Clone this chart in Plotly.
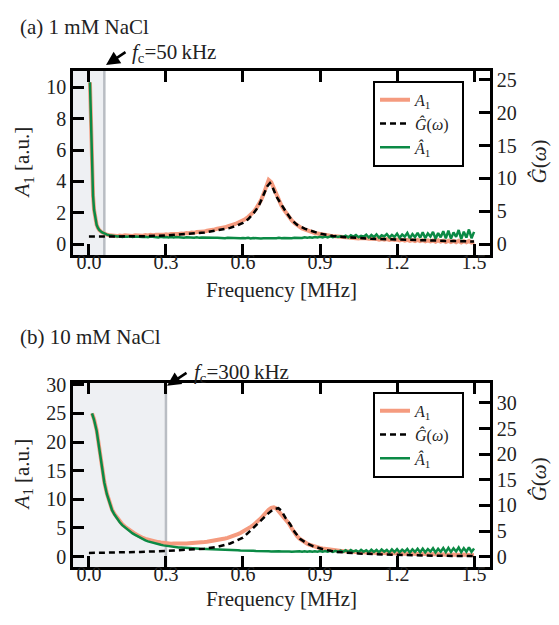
import plotly.graph_objects as go

SERIF = "Liberation Serif"
SALMON = "#f59b7f"
GREEN = "#0b8a45"
SHADE = "#eef0f3"
SHADE_EDGE = "#b9bdc3"

# ---- frequency samples [MHz] ----
freq_tail = [
    0.10, 0.11, 0.12, 0.13, 0.14, 0.15, 0.16, 0.17, 0.18, 0.19,
    0.20, 0.21, 0.22, 0.23, 0.24, 0.25, 0.26, 0.27, 0.28, 0.29,
    0.30, 0.31, 0.32, 0.33, 0.34, 0.35, 0.36, 0.37, 0.38, 0.39,
    0.40, 0.41, 0.42, 0.43, 0.44, 0.45, 0.46, 0.47, 0.48, 0.49,
    0.50, 0.51, 0.52, 0.53, 0.54, 0.55, 0.56, 0.57, 0.58, 0.59,
    0.60, 0.61, 0.62, 0.63, 0.64, 0.65, 0.66, 0.67, 0.68, 0.69,
    0.70, 0.71, 0.72, 0.73, 0.74, 0.75, 0.76, 0.77, 0.78, 0.79,
    0.80, 0.81, 0.82, 0.83, 0.84, 0.85, 0.86, 0.87, 0.88, 0.89,
    0.90, 0.91, 0.92, 0.93, 0.94, 0.95, 0.96, 0.97, 0.98, 0.99,
    1.00, 1.01, 1.02, 1.03, 1.04, 1.05, 1.06, 1.07, 1.08, 1.09,
    1.10, 1.11, 1.12, 1.13, 1.14, 1.15, 1.16, 1.17, 1.18, 1.19,
    1.20, 1.21, 1.22, 1.23, 1.24, 1.25, 1.26, 1.27, 1.28, 1.29,
    1.30, 1.31, 1.32, 1.33, 1.34, 1.35, 1.36, 1.37, 1.38, 1.39,
    1.40, 1.41, 1.42, 1.43, 1.44, 1.45, 1.46, 1.47, 1.48, 1.49,
    1.50,
]
freq_a_early = [0.004, 0.006, 0.008, 0.010, 0.013, 0.016, 0.020, 0.025,
                0.030, 0.035, 0.040, 0.050, 0.060, 0.070, 0.080, 0.090]
freq_b_early = [0.012, 0.020, 0.030, 0.040, 0.050, 0.060, 0.070, 0.080, 0.090]
freq_a = freq_a_early + freq_tail
freq_b = freq_b_early + freq_tail

# ---- (a) 1 mM NaCl ----
a1_a = [
    10.3, 9.0, 7.5, 5.8, 4.2, 3.1, 2.2, 1.6, 1.25, 1.05, 0.92, 0.78, 0.68, 0.62, 0.58, 0.55,
    0.56, 0.53, 0.57, 0.54, 0.58, 0.55, 0.57, 0.54, 0.58, 0.56,
    0.59, 0.56, 0.60, 0.57, 0.61, 0.58, 0.62, 0.60, 0.63, 0.61,
    0.65, 0.62, 0.66, 0.64, 0.68, 0.66, 0.70, 0.68, 0.73, 0.71,
    0.76, 0.74, 0.79, 0.78, 0.83, 0.82, 0.87, 0.88, 0.93, 0.95,
    1.00, 1.01, 1.07, 1.09, 1.15, 1.18, 1.26, 1.30, 1.38, 1.45,
    1.52, 1.62, 1.74, 1.88, 2.05, 2.25, 2.50, 2.80, 3.20, 3.65,
    4.10, 3.95, 3.55, 3.10, 2.80, 2.45, 2.20, 1.95, 1.72, 1.52,
    1.36, 1.22, 1.12, 1.02, 0.95, 0.88, 0.82, 0.78, 0.73, 0.70,
    0.66, 0.63, 0.61, 0.58, 0.56, 0.54, 0.52, 0.51, 0.49, 0.47,
    0.45, 0.43, 0.44, 0.40, 0.42, 0.38, 0.41, 0.37, 0.39, 0.36,
    0.37, 0.33, 0.36, 0.31, 0.35, 0.30, 0.34, 0.29, 0.33, 0.28,
    0.31, 0.26, 0.30, 0.24, 0.29, 0.23, 0.28, 0.22, 0.29, 0.21,
    0.27, 0.20, 0.26, 0.19, 0.25, 0.17, 0.26, 0.18, 0.24, 0.16,
    0.24, 0.15, 0.22, 0.14, 0.23, 0.13, 0.21, 0.14, 0.22, 0.12,
    0.18,
]
a1_hat_a = [
    10.3, 9.0, 7.5, 5.8, 4.2, 3.1, 2.2, 1.6, 1.25, 1.05, 0.92, 0.78, 0.68, 0.62, 0.58, 0.55,
    0.54, 0.50, 0.52, 0.48, 0.51, 0.49, 0.52, 0.47, 0.50, 0.48,
    0.50, 0.47, 0.49, 0.46, 0.50, 0.47, 0.48, 0.45, 0.49, 0.46,
    0.48, 0.45, 0.47, 0.44, 0.47, 0.45, 0.46, 0.43, 0.46, 0.44,
    0.45, 0.43, 0.46, 0.42, 0.44, 0.43, 0.45, 0.41, 0.44, 0.42,
    0.43, 0.41, 0.43, 0.40, 0.42, 0.41, 0.43, 0.39, 0.42, 0.40,
    0.41, 0.39, 0.42, 0.38, 0.41, 0.39, 0.41, 0.38, 0.40, 0.39,
    0.41, 0.38, 0.40, 0.39, 0.42, 0.39, 0.41, 0.40, 0.43, 0.40,
    0.42, 0.41, 0.44, 0.41, 0.45, 0.42, 0.46, 0.43, 0.47, 0.44,
    0.48, 0.44, 0.50, 0.45, 0.51, 0.46, 0.53, 0.47, 0.52, 0.48,
    0.56, 0.45, 0.58, 0.50, 0.60, 0.46, 0.55, 0.49, 0.62, 0.44,
    0.60, 0.47, 0.64, 0.43, 0.58, 0.51, 0.66, 0.45, 0.61, 0.48,
    0.69, 0.42, 0.63, 0.49, 0.73, 0.40, 0.66, 0.47, 0.74, 0.43,
    0.77, 0.40, 0.70, 0.50, 0.80, 0.36, 0.72, 0.46, 0.84, 0.39,
    0.88, 0.37, 0.76, 0.48, 0.92, 0.34, 0.81, 0.44, 0.95, 0.40,
    0.80,
]
g_freq_a = [0.0, 0.10, 0.20, 0.30, 0.40, 0.45, 0.50, 0.55, 0.58, 0.60, 0.62,
            0.64, 0.66, 0.68, 0.695, 0.705, 0.715, 0.73, 0.75, 0.77, 0.79,
            0.81, 0.84, 0.87, 0.90, 0.95, 1.00, 1.10, 1.20, 1.30, 1.40, 1.50]
g_hat_a = [1.19, 1.19, 1.24, 1.36, 1.62, 1.81, 2.15, 2.51, 2.91, 3.27, 3.82,
           4.66, 5.73, 7.40, 8.84, 9.31, 8.72, 7.28, 5.97, 4.78, 3.70,
           2.99, 2.39, 1.96, 1.62, 1.29, 1.10, 0.86, 0.72, 0.60, 0.53, 0.45]

# ---- (b) 10 mM NaCl ----
a1_b = [
    25.0, 24.0, 22.1, 18.9, 15.5, 13.0, 11.0, 9.4, 8.2,
    7.40, 6.75, 6.15, 5.65, 5.25, 4.88, 4.52, 4.22, 3.98, 3.74,
    3.44, 3.26, 3.10, 2.96, 2.84, 2.72, 2.62, 2.54, 2.46, 2.38,
    2.32, 2.30, 2.26, 2.28, 2.25, 2.27, 2.26, 2.30, 2.29, 2.33,
    2.34, 2.38, 2.40, 2.45, 2.48, 2.55, 2.60, 2.66, 2.72, 2.80,
    2.88, 2.96, 3.06, 3.16, 3.28, 3.40, 3.55, 3.72, 3.92, 4.12,
    4.35, 4.60, 4.90, 5.20, 5.50, 5.85, 6.25, 6.70, 7.20, 7.75,
    8.20, 8.50, 8.60, 8.40, 7.90, 7.30, 6.80, 6.40, 5.70, 4.90,
    4.20, 3.60, 3.15, 2.80, 2.50, 2.25, 2.05, 1.88, 1.72, 1.60,
    1.50, 1.42, 1.34, 1.27, 1.20, 1.14, 1.09, 1.04, 0.99, 0.95,
    0.92, 0.86, 0.88, 0.80, 0.83, 0.76, 0.79, 0.72, 0.76, 0.69,
    0.72, 0.64, 0.69, 0.61, 0.66, 0.58, 0.63, 0.55, 0.61, 0.53,
    0.58, 0.50, 0.56, 0.47, 0.54, 0.45, 0.52, 0.43, 0.50, 0.41,
    0.48, 0.39, 0.46, 0.37, 0.45, 0.35, 0.43, 0.34, 0.42, 0.32,
    0.40, 0.31, 0.38, 0.29, 0.37, 0.28, 0.35, 0.27, 0.34, 0.26,
    0.30,
]
a1_hat_b = [
    25.0, 23.9, 22.0, 18.7, 15.4, 12.9, 10.9, 9.3, 8.1,
    7.30, 6.60, 6.00, 5.50, 5.10, 4.70, 4.35, 4.05, 3.80, 3.55,
    3.20, 3.00, 2.82, 2.66, 2.52, 2.40, 2.28, 2.17, 2.06, 1.96,
    1.88, 1.80, 1.76, 1.70, 1.66, 1.60, 1.58, 1.53, 1.51, 1.47,
    1.45, 1.41, 1.40, 1.36, 1.35, 1.31, 1.31, 1.27, 1.27, 1.23,
    1.23, 1.19, 1.20, 1.15, 1.16, 1.12, 1.13, 1.09, 1.10, 1.06,
    1.07, 1.03, 1.04, 1.00, 1.02, 0.97, 0.99, 0.95, 0.97, 0.93,
    0.95, 0.91, 0.94, 0.89, 0.93, 0.88, 0.92, 0.87, 0.91, 0.86,
    0.91, 0.85, 0.92, 0.84, 0.93, 0.85, 0.94, 0.84, 0.95, 0.85,
    0.97, 0.84, 0.99, 0.85, 1.01, 0.83, 1.02, 0.84, 1.04, 0.82,
    1.10, 0.80, 1.14, 0.86, 1.08, 0.78, 1.18, 0.84, 1.12, 0.76,
    1.20, 0.82, 1.16, 0.74, 1.24, 0.86, 1.18, 0.72, 1.26, 0.80,
    1.30, 0.74, 1.22, 0.84, 1.34, 0.70, 1.28, 0.82, 1.38, 0.76,
    1.40, 0.74, 1.32, 0.86, 1.46, 0.72, 1.36, 0.84, 1.50, 0.78,
    1.52, 0.80, 1.44, 0.90, 1.60, 0.76, 1.48, 0.86, 1.62, 0.82,
    1.40,
]
g_freq_b = [0.0, 0.10, 0.20, 0.30, 0.40, 0.45, 0.50, 0.55, 0.60, 0.627,
            0.66, 0.70, 0.72, 0.738, 0.75, 0.765, 0.783, 0.80, 0.822, 0.85,
            0.874, 0.92, 0.965, 1.05, 1.15, 1.25, 1.35, 1.50]
g_hat_b = [0.73, 0.78, 0.92, 1.12, 1.40, 1.57, 1.90, 2.57, 3.69, 5.04,
           6.49, 8.50, 9.29, 9.46, 8.95, 7.61, 6.38, 4.92, 3.47, 2.57,
           2.01, 1.34, 0.93, 0.62, 0.43, 0.28, 0.19, 0.11]

# cut-off frequencies [MHz] bounding the shaded band
fc_a = 0.06
fc_b = 0.30

x_ticks = [0.0, 0.3, 0.6, 0.9, 1.2, 1.5]
x_ticktext = ["0.0", "0.3", "0.6", "0.9", "1.2", "1.5"]
ya_ticks = [0, 2, 4, 6, 8, 10]
ya2_ticks = [0, 5, 10, 15, 20, 25]
yb_ticks = [0, 5, 10, 15, 20, 25, 30]
yb2_ticks = [0, 5, 10, 15, 20, 25, 30]

LBL_A1 = "<i>A</i><sub>1</sub>"
LBL_G = "<i>Ĝ</i>(<i>ω</i>)\u00a0\u00a0"
LBL_A1H = "<i>Â</i><sub>1</sub>"

W, H = 559, 625
fig = go.Figure()


def add_panel(xa, ya, ya_r, leg, f, a1, a1h, gf, g):
    fig.add_trace(go.Scatter(x=f, y=a1, xaxis=xa, yaxis=ya, mode="lines",
                             line=dict(color=SALMON, width=4), name=LBL_A1,
                             legend=leg, legendrank=1))
    fig.add_trace(go.Scatter(x=f, y=a1h, xaxis=xa, yaxis=ya, mode="lines",
                             line=dict(color=GREEN, width=2.5), name=LBL_A1H,
                             legend=leg, legendrank=3))
    fig.add_trace(go.Scatter(x=gf, y=g, xaxis=xa, yaxis=ya_r, mode="lines",
                             line=dict(color="black", width=2.5, dash="6px,4px"),
                             name=LBL_G, legend=leg, legendrank=2))


add_panel("x", "y", "y2", "legend", freq_a, a1_a, a1_hat_a, g_freq_a, g_hat_a)
add_panel("x2", "y3", "y4", "legend2", freq_b, a1_b, a1_hat_b, g_freq_b, g_hat_b)

x_dom = [73 / W, 490 / W]
top_dom = [1 - 250 / H, 1 - 63 / H]
bot_dom = [1 - 567 / H, 1 - 380 / H]
X_RANGE = [-0.062, 1.562]

axis_style = dict(showline=True, linecolor="black", linewidth=2.5,
                  ticks="inside", ticklen=11, tickwidth=2.5, tickcolor="black",
                  showgrid=False, zeroline=False,
                  tickfont=dict(family=SERIF, size=20, color="#222"))

fig.update_layout(
    xaxis=dict(domain=x_dom, anchor="y", range=X_RANGE, tickvals=x_ticks,
               ticktext=x_ticktext, mirror="ticks", ticklabelstandoff=-13,
               **axis_style),
    yaxis=dict(domain=top_dom, anchor="x", range=[-0.67, 11.02],
               tickvals=ya_ticks, **axis_style),
    yaxis2=dict(overlaying="y", side="right", anchor="x", range=[-1.6, 26.3],
                tickvals=ya2_ticks, **axis_style),
    xaxis2=dict(domain=x_dom, anchor="y3", range=X_RANGE, tickvals=x_ticks,
                ticktext=x_ticktext, mirror="ticks", ticklabelstandoff=-13,
                **axis_style),
    yaxis3=dict(domain=bot_dom, anchor="x2", range=[-1.8, 30.33],
                tickvals=yb_ticks, **axis_style),
    yaxis4=dict(overlaying="y3", side="right", anchor="x2", range=[-2.0, 33.9],
                tickvals=yb2_ticks, **axis_style),
)

# shaded low-frequency bands with their edge lines
for xref, yref, fc in (("x", "y domain", fc_a), ("x2", "y3 domain", fc_b)):
    fig.add_shape(type="rect", xref=xref, yref=yref, x0=X_RANGE[0], x1=fc,
                  y0=0, y1=1, fillcolor=SHADE, line_width=0, layer="below")
    fig.add_shape(type="line", xref=xref, yref=yref, x0=fc, x1=fc, y0=0, y1=1,
                  line=dict(color=SHADE_EDGE, width=2.5), layer="below")

legend_style = dict(xanchor="left", yanchor="top", bgcolor="white",
                    bordercolor="black", borderwidth=2,
                    font=dict(family=SERIF, size=16, color="#222"),
                    tracegroupgap=0, itemwidth=30)
fig.update_layout(
    legend=dict(x=373 / W, y=1 - 73 / H, **legend_style),
    legend2=dict(x=373 / W, y=1 - 389 / H, **legend_style),
)


def px_text(x, y, text, size=21, angle=0, xanchor="center"):
    fig.add_annotation(x=x / W, y=1 - y / H, xref="paper", yref="paper",
                       text=text, showarrow=False, textangle=angle,
                       xanchor=xanchor, yanchor="middle",
                       font=dict(family=SERIF, size=size, color="#222"))


def px_arrow(x_tip, y_tip, dx, dy):
    fig.add_annotation(x=x_tip / W, y=1 - y_tip / H, xref="paper", yref="paper",
                       text="", showarrow=True, ax=dx, ay=dy, arrowhead=2,
                       arrowsize=1.1, arrowwidth=2.5, arrowcolor="black")


# panel headings
px_text(18, 18, "(a) 1 mM NaCl", xanchor="left")
px_text(18, 333, "(b) 10 mM NaCl", xanchor="left")

# cut-off markers
px_text(130, 45, "<i>f</i><sub>c</sub>=50\u2009kHz", xanchor="left")
px_arrow(106, 57, 21, -14)
px_text(192, 370, "<i>f</i><sub>c</sub>=300\u2009kHz", xanchor="left")
px_arrow(167, 383, 21, -14)

# axis titles
for yc in (156, 473):
    px_text(23, yc, "<i>A</i><sub>1</sub> [a.u.]", angle=-90)
for yc in (155, 478):
    px_text(539, yc, "<i>Ĝ</i>(<i>ω</i>)", angle=-90)
for yc in (286, 600):
    px_text(281, yc, "Frequency [MHz]")

fig.update_layout(width=W, height=H, margin=dict(l=0, r=0, t=0, b=0),
                  paper_bgcolor="white", plot_bgcolor="white")

fig.write_html("out.html")
